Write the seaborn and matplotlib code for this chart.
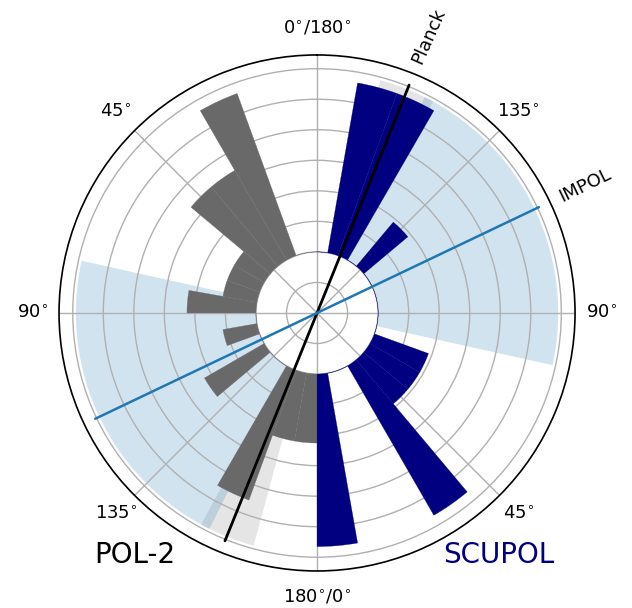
import numpy as np
import pandas as pd
import matplotlib.pyplot as plt
import seaborn as sns

# ===============================================
# DATA (10 degree bins, angle 0-180)
# ===============================================

bin_start = np.arange(0, 180, 10)
pol2_counts = [0, 0, 5, 3, 3, 1, 1, 1, 2, 0, 1, 0, 2, 0, 0, 4, 2, 2]
scupol_counts = [3, 0, 0, 3, 1, 1, 1, 0, 0, 0, 0, 0, 0, 1, 0, 3, 3, 0]

planck_angle = 158.0
planck_width = 13.5
impol_angle = 115.5
impol_width = 76.0

tick_angles = [0, 45, 90, 135, 180, 225, 270, 315]
tick_labels = [r"0$^{\circ}$/180$^{\circ}$", r"45$^{\circ}$", r"90$^{\circ}$", r"135$^{\circ}$",
               r"180$^{\circ}$/0$^{\circ}$", r"45$^{\circ}$", r"90$^{\circ}$", r"135$^{\circ}$"]

df = pd.DataFrame({"start": bin_start, "POL-2": pol2_counts, "SCUPOL": scupol_counts})
# normalise each histogram to its own maximum
df["pol2_norm"] = df["POL-2"] / df["POL-2"].max()
df["scupol_norm"] = df["SCUPOL"] / df["SCUPOL"].max()

# radial layout (grid units)
hole = 2.0
scale = 5.65
r_band = 7.9
r_line = 8.05
r_max = 8.45

# ===============================================
# FIGURE
# ===============================================

sns.set_theme(style="white")
plt.rcParams["font.family"] = ["DejaVu Sans"]
plt.rcParams["text.color"] = "black"
plt.rcParams["xtick.color"] = "black"

fig = plt.figure(figsize=(6.32, 6.08), dpi=100)
ax = fig.add_axes([0.0934, 0.0609, 0.8165, 0.8487], projection="polar")
ax.set_theta_zero_location("N")
ax.set_theta_direction(1)

w = np.radians(10)

# reference bands (below the histograms)
for a in [planck_angle, planck_angle + 180]:
    ax.bar(np.radians(a), r_band - hole, width=np.radians(planck_width), bottom=hole,
           color="black", alpha=0.1, linewidth=0, zorder=0.2)
for a in [impol_angle, impol_angle + 180]:
    ax.bar(np.radians(a), r_band - hole, width=np.radians(impol_width), bottom=hole,
           color="tab:blue", alpha=0.2, linewidth=0, zorder=0.2)

# POL-2 on the left half, SCUPOL on the right half
ax.bar(np.radians(df["start"] + 5), df["pol2_norm"] * scale, width=w, bottom=hole,
       color="dimgray", edgecolor="dimgray", linewidth=0.2, zorder=1)
ax.bar(np.radians(df["start"] + 185), df["scupol_norm"] * scale, width=w, bottom=hole,
       color="navy", edgecolor="navy", linewidth=0.2, zorder=1)

# Planck and IMPOL directions
for a in [planck_angle, planck_angle + 180]:
    ax.plot([np.radians(a)] * 2, [0, r_line], color="black", lw=2, zorder=3)
for a in [impol_angle, impol_angle + 180]:
    ax.plot([np.radians(a)] * 2, [0, r_line], color="tab:blue", lw=1.8, zorder=3)

ax.text(np.radians(planck_angle + 180), 9.78, "Planck", rotation=66, fontsize=13,
        color="black", ha="center", va="center", rotation_mode="anchor", clip_on=False)
ax.text(np.radians(impol_angle + 180), 9.73, "IMPOL", rotation=26, fontsize=13,
        color="black", ha="center", va="center", rotation_mode="anchor", clip_on=False)

# axes styling
ax.set_ylim(0, r_max)
ax.set_yticks(np.arange(1, 9))
ax.set_yticklabels([])
ax.set_xticks(np.radians(tick_angles))
ax.set_xticklabels(tick_labels, fontsize=13, color="black")
ax.tick_params(axis="x", pad=6, colors="black")
ax.set_axisbelow(True)
ax.grid(True, color="#b0b0b0", lw=1)
ax.spines["polar"].set_color("black")
ax.spines["polar"].set_linewidth(1.2)

fig.text(135 / 632, 1 - 555 / 608, "POL-2", fontsize=20, color="black", ha="center", va="center")
fig.text(499 / 632, 1 - 555 / 608, "SCUPOL", fontsize=20, color="navy", ha="center", va="center")

fig.savefig("out.png", dpi=100)
